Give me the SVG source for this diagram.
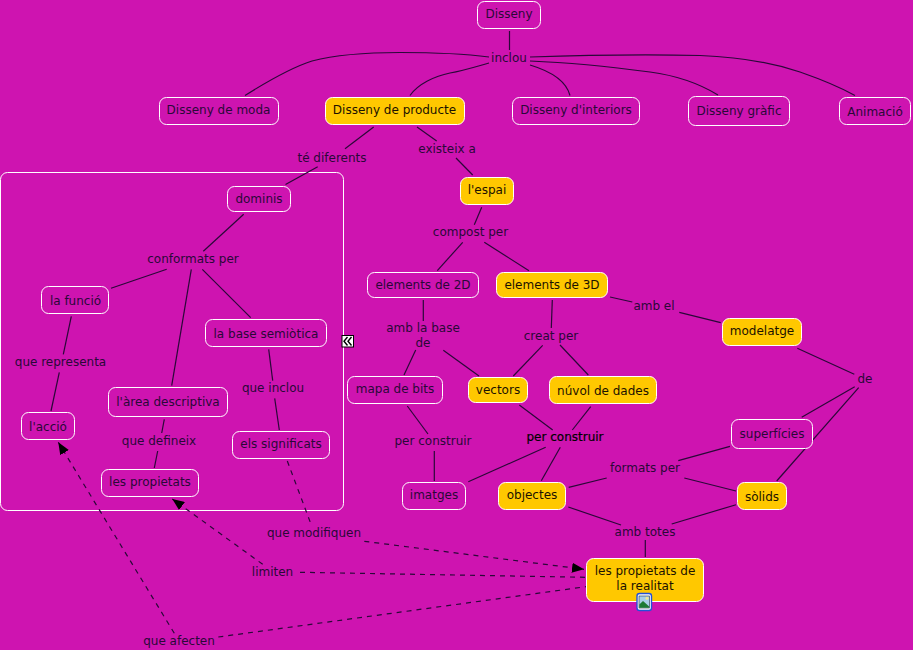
<svg xmlns="http://www.w3.org/2000/svg" width="913" height="650" viewBox="0 0 913 650">
<style>
text{font-family:"DejaVu Sans",Verdana,sans-serif;font-size:12px;fill:#2a0838;text-anchor:middle}
.dk text{fill:#1c1200}
.c line,.c path{fill:none;stroke:#2a0838;stroke-width:1.2}
.d line{stroke-dasharray:5 5}
.n{fill:#CE14B0;stroke:#fff;stroke-width:1}
.y{fill:#FFC800;stroke:#fff;stroke-width:1}
.b{stroke:#000;stroke-width:.2;fill:#000}
</style>
<defs>
<marker id="ah" markerUnits="userSpaceOnUse" markerWidth="13" markerHeight="10" refX="12" refY="5" orient="auto"><path d="M0 0L12 5L0 10Z" fill="#000"/></marker>
</defs>
<rect width="913" height="650" fill="#CE14B0"/>
<rect id="panel" x="0.5" y="172.5" width="343" height="338" rx="7" fill="none" stroke="#fff"/>
<g id="connectors" class="c">
<line x1="509.5" y1="31" x2="509.5" y2="50"/>
<path d="M489 57C470 54.500 440 52.500 400 52.500C365 52.500 335 55 312 61C290 68 268 81 245 95.500"/>
<path d="M489 63C475 67 462 71 450 73C435 76 418 84 410 95.500"/>
<path d="M530 65C550 71 566 80 570 95.500"/>
<path d="M530 61C580 63 620 68 650 72C680 76 700 84 718 95"/>
<path d="M530 57C590 55 650 54.500 700 55.500C740 57 770 62 800 72C820 79 838 86 855 95.500"/>
<line x1="373.700" y1="127" x2="345" y2="148.700"/>
<line x1="317.700" y1="166.700" x2="285.500" y2="184.500"/>
<line x1="417" y1="127" x2="436.700" y2="141"/>
<line x1="456" y1="158" x2="472.700" y2="175"/>
<line x1="481.700" y1="207.300" x2="474.300" y2="224.700"/>
<line x1="462.700" y1="242.300" x2="437.300" y2="270.700"/>
<line x1="484.300" y1="242.300" x2="529" y2="270.700"/>
<line x1="423.300" y1="300" x2="423.300" y2="321"/>
<line x1="552.300" y1="300" x2="551.300" y2="328"/>
<line x1="415.700" y1="350" x2="404" y2="375"/>
<line x1="443.300" y1="350.300" x2="479" y2="376"/>
<line x1="542.700" y1="345.300" x2="513.300" y2="376"/>
<line x1="560" y1="345" x2="588.300" y2="375"/>
<line x1="407.300" y1="406" x2="428" y2="434"/>
<line x1="434.300" y1="451" x2="434.300" y2="481"/>
<line x1="519.300" y1="405" x2="552.700" y2="430"/>
<line x1="590.700" y1="406.700" x2="572.300" y2="430"/>
<line x1="545.700" y1="447.300" x2="468.300" y2="481.700"/>
<line x1="560.300" y1="447.300" x2="541.300" y2="480.700"/>
<line x1="568.700" y1="487.300" x2="606.700" y2="478"/>
<line x1="568.300" y1="507" x2="621" y2="525"/>
<line x1="730" y1="446.300" x2="678.300" y2="460.700"/>
<line x1="684.300" y1="478" x2="736" y2="491"/>
<line x1="736" y1="504.700" x2="671.700" y2="524"/>
<line x1="645.300" y1="540" x2="645.300" y2="557"/>
<line x1="610" y1="297" x2="632.300" y2="302"/>
<line x1="679.300" y1="312.300" x2="720.700" y2="322.700"/>
<line x1="797.300" y1="348.300" x2="854.300" y2="374.300"/>
<line x1="854.700" y1="386.700" x2="801.700" y2="417.300"/>
<line x1="858.700" y1="387.700" x2="776.700" y2="481"/>
<line x1="243.700" y1="214.300" x2="203.300" y2="251.300"/>
<line x1="166.700" y1="269.300" x2="111" y2="288.300"/>
<line x1="191.300" y1="269.300" x2="171.700" y2="385.700"/>
<line x1="202.300" y1="269.300" x2="250.700" y2="317.700"/>
<line x1="71.300" y1="316.300" x2="63.300" y2="354.300"/>
<line x1="59.300" y1="372.300" x2="51" y2="411"/>
<line x1="268.700" y1="349.300" x2="272.700" y2="380.700"/>
<line x1="274.700" y1="398.300" x2="279.300" y2="430"/>
<line x1="164.300" y1="419.300" x2="161.700" y2="433"/>
<line x1="157.700" y1="451" x2="154.300" y2="468"/>
<g class="d">
<line x1="287.300" y1="461" x2="311.700" y2="526"/>
<line x1="364.300" y1="541.300" x2="584" y2="569.300" marker-end="url(#ah)"/>
<line x1="300" y1="572.300" x2="586" y2="577.300"/>
<line x1="262.700" y1="564.300" x2="172.300" y2="499" marker-end="url(#ah)"/>
<line x1="218.300" y1="637" x2="586" y2="586.700"/>
<line x1="174.300" y1="633.300" x2="58.300" y2="442.300" marker-end="url(#ah)"/>
</g>
</g>
<g id="n-disseny"><rect class="n" x="477.500" y="1.500" width="63" height="27" rx="7"/><text x="509" y="18">Disseny</text></g>
<g id="n-moda"><rect class="n" x="159.500" y="97.500" width="119" height="27" rx="7"/><text x="218.500" y="114">Disseny de moda</text></g>
<g id="n-producte" class="dk"><rect class="y" x="325.500" y="97.500" width="139" height="27" rx="7"/><text x="394.500" y="114">Disseny de producte</text></g>
<g id="n-interiors"><rect class="n" x="512.500" y="97.500" width="127" height="27" rx="7"/><text x="576" y="114">Disseny d'interiors</text></g>
<g id="n-grafic"><rect class="n" x="688.500" y="96.500" width="101" height="29" rx="7"/><text x="739" y="115">Disseny gràfic</text></g>
<g id="n-animacio"><rect class="n" x="839.500" y="97.500" width="71" height="27" rx="7"/><text x="875" y="116">Animació</text></g>
<g id="n-espai" class="dk"><rect class="y" x="460.500" y="177.500" width="53" height="27" rx="7"/><text x="487" y="194">l'espai</text></g>
<g id="n-2d"><rect class="n" x="367.500" y="272.500" width="111" height="25" rx="7"/><text x="423" y="289">elements de 2D</text></g>
<g id="n-3d" class="dk"><rect class="y" x="496.500" y="272.500" width="111" height="25" rx="7"/><text x="552" y="289">elements de 3D</text></g>
<g id="n-mapa"><rect class="n" x="347.500" y="376.500" width="95" height="27" rx="7"/><text x="395" y="393">mapa de bits</text></g>
<g id="n-vectors" class="dk"><rect class="y" x="468.500" y="377.500" width="59" height="25" rx="7"/><text x="498" y="394">vectors</text></g>
<g id="n-nuvol" class="dk"><rect class="y" x="549.500" y="376.500" width="107" height="27" rx="7"/><text x="603" y="395">núvol de dades</text></g>
<g id="n-imatges"><rect class="n" x="402.500" y="482.500" width="63" height="27" rx="7"/><text x="434" y="499">imatges</text></g>
<g id="n-objectes" class="dk"><rect class="y" x="498.500" y="482.500" width="67" height="27" rx="7"/><text x="532" y="499">objectes</text></g>
<g id="n-modelatge" class="dk"><rect class="y" x="722.500" y="318.500" width="79" height="27" rx="7"/><text x="762" y="335">modelatge</text></g>
<g id="n-superficies"><rect class="n" x="731.500" y="419.500" width="81" height="29" rx="7"/><text x="772" y="438">superfícies</text></g>
<g id="n-solids" class="dk"><rect class="y" x="737.500" y="482.500" width="49" height="27" rx="7"/><text x="762" y="501">sòlids</text></g>
<g id="n-realitat" class="dk"><rect class="y" x="586.500" y="558.500" width="117" height="43" rx="7"/><text x="645" y="575">les propietats de</text><text x="645" y="590">la realitat</text></g>
<g id="n-dominis"><rect class="n" x="227.500" y="186.500" width="63" height="25" rx="7"/><text x="259" y="203">dominis</text></g>
<g id="n-funcio"><rect class="n" x="41.500" y="286.500" width="67" height="27" rx="7"/><text x="75.500" y="305">la funció</text></g>
<g id="n-base"><rect class="n" x="205.500" y="319.500" width="121" height="27" rx="7"/><text x="266" y="338">la base semiòtica</text></g>
<g id="n-area"><rect class="n" x="108.500" y="387.500" width="119" height="29" rx="7"/><text x="168" y="406">l'àrea descriptiva</text></g>
<g id="n-accio"><rect class="n" x="21.500" y="412.500" width="53" height="27" rx="7"/><text x="48" y="431">l'acció</text></g>
<g id="n-significats"><rect class="n" x="232.500" y="431.500" width="97" height="27" rx="7"/><text x="281" y="448">els significats</text></g>
<g id="n-propietats"><rect class="n" x="101.500" y="469.500" width="97" height="27" rx="7"/><text x="150" y="486">les propietats</text></g>
<g id="labels">
<g id="l-inclou"><text x="509" y="62">inclou</text></g>
<g id="l-te"><text x="332" y="162">té diferents</text></g>
<g id="l-existeix"><text x="447" y="153">existeix a</text></g>
<g id="l-compost"><text x="470.500" y="236">compost per</text></g>
<g id="l-ambbase"><text x="423" y="332">amb la base</text><text x="423" y="347">de</text></g>
<g id="l-creat"><text x="551" y="340">creat per</text></g>
<g id="l-ambel"><text x="654" y="310">amb el</text></g>
<g id="l-de"><text x="865" y="383">de</text></g>
<g id="l-per1"><text x="433" y="445">per construir</text></g>
<g id="l-per2"><text class="b" x="565" y="441">per construir</text></g>
<g id="l-formats"><text x="645" y="472">formats per</text></g>
<g id="l-ambtotes"><text x="645" y="536">amb totes</text></g>
<g id="l-conformats"><text x="193" y="263">conformats per</text></g>
<g id="l-representa"><text x="60.500" y="366">que representa</text></g>
<g id="l-queinclou"><text x="273" y="392">que inclou</text></g>
<g id="l-defineix"><text x="159" y="445">que defineix</text></g>
<g id="l-modifiquen"><text x="314" y="537">que modifiquen</text></g>
<g id="l-limiten"><text x="272.500" y="576">limiten</text></g>
<g id="l-afecten"><text x="179" y="645">que afecten</text></g>
</g>
<g id="toggle-icon">
<rect x="342" y="335.500" width="11.500" height="11.500" fill="#fff" stroke="#000"/>
<path d="M347.500 337L344 341.200L347.500 345.500M351.500 337L348 341.200L351.500 345.500" fill="none" stroke="#000" stroke-width="1.400"/>
</g>
<g id="image-icon">
<rect x="637" y="593.500" width="14.500" height="17" rx="2.500" fill="#fff" stroke="#2450d8" stroke-width="1.400"/>
<rect x="639" y="596" width="10.500" height="12" fill="#a8cfe8" stroke="#24304a" stroke-width=".6"/>
<circle cx="647" cy="598.200" r="1.500" fill="#f4e890"/>
<path d="M639.300 607.700V604.500L643 601L649.200 606.500V607.700Z" fill="#1c7a34"/>
</g>
</svg>
